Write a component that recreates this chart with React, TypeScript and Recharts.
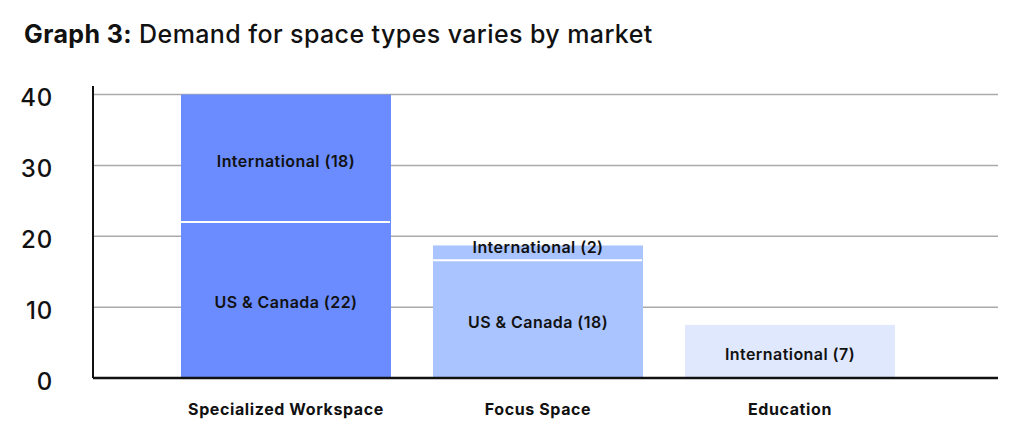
import React from "react";
import {
  BarChart,
  Bar,
  XAxis,
  YAxis,
  CartesianGrid,
  Cell,
  LabelList,
} from "recharts";

const categories = ["Specialized Workspace", "Focus Space", "Education"];
const usCanada = [22, 16.6, 0];
const international = [18, 2.1, 7.5];
const usCanadaLabels = ["US & Canada (22)", "US & Canada (18)", ""];
const internationalLabels = ["International (18)", "International (2)", "International (7)"];
const yTicks = [0, 10, 20, 30, 40];

const COLORS = ["#6a8cff", "#aac4ff", "#e0e8fd"];
const FONT = "Inter, 'Noto Sans', sans-serif";

const data = categories.map((name, i) => ({
  name,
  usCanada: usCanada[i],
  international: international[i],
}));

function makeLabel(labels: string[]) {
  return (props: any) => {
    const { x, y, width, height, index } = props;
    const text = labels[index];
    if (!text) return null;
    // thin segments get their label pushed up against the top edge
    const dy = height < 20 ? -4 : 4;
    return (
      <text
        x={x + width / 2}
        y={y + height / 2 + dy}
        textAnchor="middle"
        dominantBaseline="middle"
        fontFamily={FONT}
        fontSize={16}
        fontWeight={600}
        letterSpacing={0.45}
        fill="#111"
      >
        {text}
      </text>
    );
  };
}

// top segment: draw the white divider along its base when stacked on something
const TopSegment = (props: any) => {
  const { x, y, width, height, fill, payload } = props;
  if (!height) return null;
  return (
    <g>
      <rect x={x} y={y} width={width} height={height} fill={fill} />
      {payload.usCanada > 0 && (
        <line x1={x} x2={x + width - 1} y1={y + height} y2={y + height} stroke="#fff" strokeWidth={2} />
      )}
    </g>
  );
};

export default function App() {
  return (
    <div style={{ position: "absolute", left: 0, top: 0, width: 1025, height: 448, background: "#fff" }}>
      <div
        style={{
          position: "absolute",
          left: 24,
          top: 19,
          fontFamily: FONT,
          fontSize: 25,
          fontWeight: 500,
          letterSpacing: 0.4,
          color: "#111",
          whiteSpace: "nowrap",
        }}
      >
        <span style={{ fontWeight: 700 }}>Graph 3:</span> Demand for space types varies by market
      </div>
      <BarChart
        width={1025}
        height={448}
        data={data}
        margin={{ top: 86, right: 27, left: 0, bottom: 0 }}
        barCategoryGap={21}
        style={{ position: "absolute", left: 0, top: 0 }}
      >
        <CartesianGrid
          vertical={false}
          stroke="#aaaaaa"
          strokeWidth={1.5}
          horizontalValues={yTicks}
        />
        <XAxis
          dataKey="name"
          height={70}
          padding={{ left: 67, right: 82 }}
          axisLine={{ stroke: "#111", strokeWidth: 2.5 }}
          tickLine={false}
          tickSize={0}
          tickMargin={26}
          tick={{ fontFamily: FONT, fontSize: 16, fontWeight: 700, fill: "#111", letterSpacing: 0.6 }}
        />
        <YAxis
          width={93}
          domain={[0, 41.2]}
          ticks={yTicks}
          allowDataOverflow
          axisLine={{ stroke: "#111", strokeWidth: 2 }}
          tickLine={false}
          tickSize={0}
          tickMargin={40}
          tick={{ fontFamily: FONT, fontSize: 24, fontWeight: 500, fill: "#111", letterSpacing: 0.8, dy: 3 }}
        />
        <Bar dataKey="usCanada" stackId="a" isAnimationActive={false}>
          {data.map((_, i) => (
            <Cell key={i} fill={COLORS[i]} />
          ))}
          <LabelList dataKey="usCanada" content={makeLabel(usCanadaLabels)} />
        </Bar>
        <Bar dataKey="international" stackId="a" isAnimationActive={false} shape={TopSegment}>
          {data.map((_, i) => (
            <Cell key={i} fill={COLORS[i]} />
          ))}
          <LabelList dataKey="international" content={makeLabel(internationalLabels)} />
        </Bar>
      </BarChart>
    </div>
  );
}
